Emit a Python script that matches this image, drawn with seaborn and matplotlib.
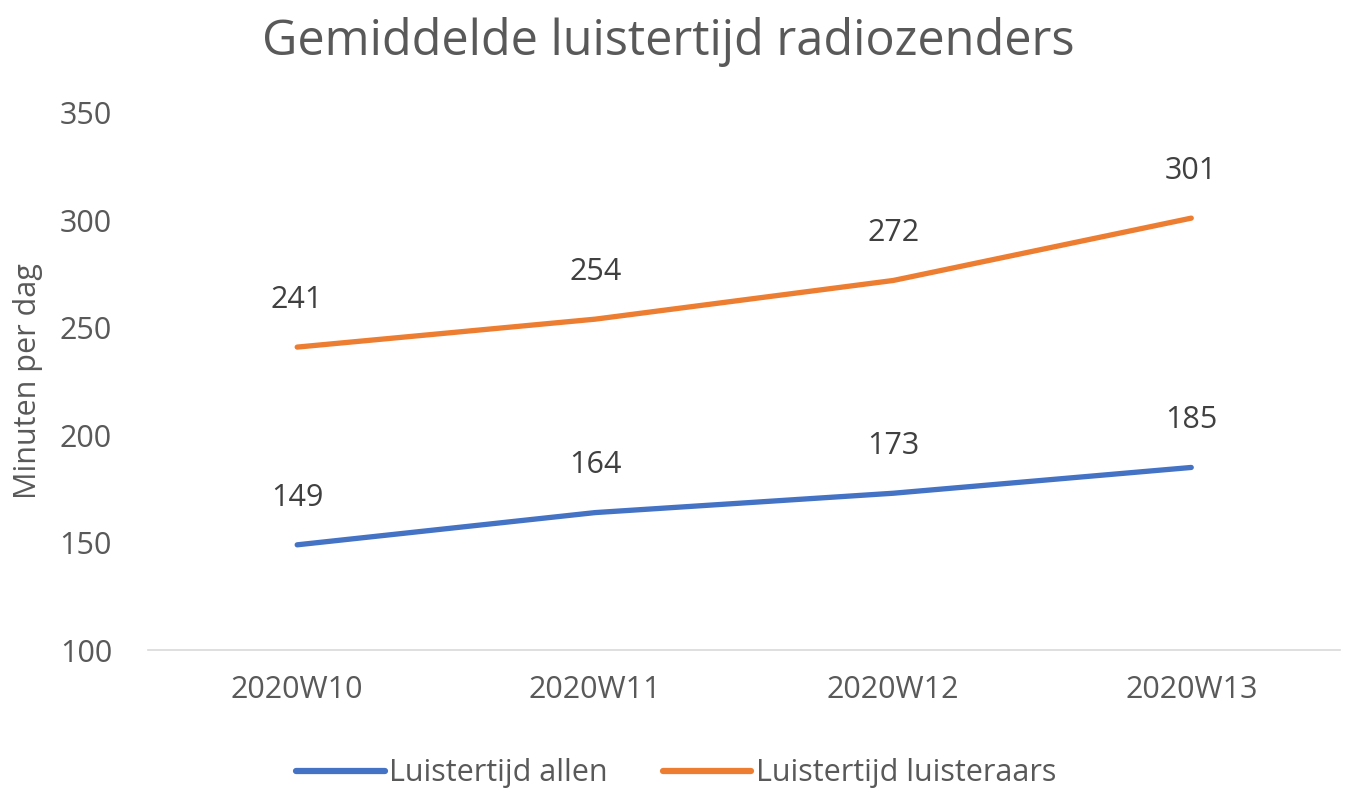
import pandas as pd
import matplotlib
matplotlib.use("Agg")
import matplotlib.pyplot as plt
import seaborn as sns

# Data
weeks = ["2020W10", "2020W11", "2020W12", "2020W13"]
allen = [149, 164, 173, 185]
luisteraars = [241, 254, 272, 301]
series_names = ["Luistertijd allen", "Luistertijd luisteraars"]
colors = ["#4472C4", "#ED7D31"]
yticks = [100, 150, 200, 250, 300, 350]

df = pd.DataFrame({
    "week": weeks * 2,
    "minuten": allen + luisteraars,
    "reeks": [series_names[0]] * len(weeks) + [series_names[1]] * len(weeks),
})

sns.set_style("white")
plt.rcParams["font.family"] = ["Open Sans", "DejaVu Sans"]
text_color = "#595959"

fig = plt.figure(figsize=(13.47, 7.89), dpi=100)
ax = fig.add_axes([0.110, 0.176, 0.885, 0.681])

sns.lineplot(data=df, x="week", y="minuten", hue="reeks", palette=colors,
             linewidth=3.8, ax=ax, sort=False, legend=False)

# data labels
for vals in (allen, luisteraars):
    for i, v in enumerate(vals):
        ax.annotate(str(v), (i, v), xytext=(0, 34), textcoords="offset points",
                    ha="center", va="center", fontsize=22, color="#404040")

ax.set_xlim(-0.5, len(weeks) - 0.5)
ax.set_ylim(100, 350)
ax.set_yticks(yticks)
ax.set_xticks(range(len(weeks)))
ax.set_xticklabels(weeks)
ax.tick_params(axis="both", labelsize=22, colors=text_color, length=0)
ax.tick_params(axis="y", pad=26)
ax.tick_params(axis="x", pad=18)
ax.set_xlabel("")
ax.set_ylabel("Minuten per dag", fontsize=22, color=text_color, labelpad=12)

for side in ["top", "right", "left"]:
    ax.spines[side].set_visible(False)
ax.spines["bottom"].set_color("#D9D9D9")
ax.spines["bottom"].set_linewidth(1.2)

fig.suptitle("Gemiddelde luistertijd radiozenders", fontsize=35, color=text_color,
             x=0.496, y=0.978, va="top")

handles = [plt.Line2D([], [], color=c, linewidth=4.5) for c in colors]
fig.legend(handles, series_names, loc="center", bbox_to_anchor=(0.502, 0.02),
           ncol=2, frameon=False, fontsize=22, handlelength=2.9,
           handletextpad=0.15, columnspacing=1.8, labelcolor=text_color)

fig.savefig("out.png", dpi=100)
